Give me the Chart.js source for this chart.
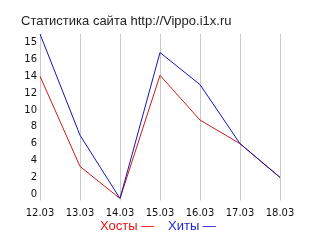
<!DOCTYPE html>
<html>
<head>
<meta charset="utf-8">
<script src="https://cdn.jsdelivr.net/npm/chart.js@4.4.1/dist/chart.umd.min.js"></script>
<style>
  html, body { margin: 0; padding: 0; background: #fff; }
  #wrap { position: relative; width: 320px; height: 240px; overflow: hidden; }
  #c { position: absolute; left: 0; top: 0; }
  .t { position: absolute; font-family: "Liberation Sans", Arial, sans-serif; font-size: 13px; line-height: 15px; white-space: nowrap; }
</style>
</head>
<body>
<div id="wrap">
  <canvas id="c" width="320" height="240"></canvas>
  <div class="t" id="title" style="left:21px; top:13px; color:#222;">Статистика сайта http://Vippo.i1x.ru</div>
  <div class="t" style="left:100px; top:218px; color:#ee1111;">Хосты —</div>
  <div class="t" style="left:168px; top:218px; color:#2222dd;">Хиты —</div>
</div>
<script>
const categories = ['12.03', '13.03', '14.03', '15.03', '16.03', '17.03', '18.03'];
const hosts = [14, 3.3, -0.5, 14.1, 8.8, 6, 2];
const hits  = [19, 7, -0.5, 16.8, 13, 6, 2];
const yTickValues = [0, 2, 4, 6, 8, 10, 12, 14, 16, 18];
const yTickLabels = ['0', '2', '4', '6', '8', '10', '12', '14', '16', '15'];

new Chart(document.getElementById('c'), {
  type: 'line',
  data: {
    labels: categories,
    datasets: [
      { label: 'Хиты', data: hits, borderColor: '#1414b4', borderWidth: 1, pointRadius: 0, tension: 0, fill: false },
      { label: 'Хосты', data: hosts, borderColor: '#cc1c1c', borderWidth: 1, pointRadius: 0, tension: 0, fill: false }
    ]
  },
  options: {
    responsive: false,
    animation: false,
    devicePixelRatio: 1,
    layout: { padding: { left: 0, right: 40, top: 34, bottom: 0 } },
    plugins: { legend: { display: false }, title: { display: false }, tooltip: { enabled: false } },
    scales: {
      x: {
        offset: false,
        grid: { display: true, color: '#c8c8c8', lineWidth: 1, drawTicks: true, tickLength: 2, tickColor: '#c8c8c8' },
        border: { display: false },
        ticks: { color: '#111', font: { family: 'DejaVu Sans', size: 10 }, padding: 7, maxRotation: 0, autoSkip: false },
        afterFit: (s) => { s.height = 41.5; }
      },
      y: {
        min: -0.5,
        max: 19,
        grid: { display: false, drawTicks: false },
        border: { display: false },
        afterBuildTicks: (s) => { s.ticks = yTickValues.map(v => ({ value: v })); },
        ticks: {
          color: '#111',
          font: { family: 'DejaVu Sans', size: 10 },
          padding: 3,
          callback: (v) => { const i = yTickValues.indexOf(v); return i >= 0 ? yTickLabels[i] : ''; }
        },
        afterFit: (s) => { s.width = 40; }
      }
    }
  }
});
</script>
</body>
</html>
